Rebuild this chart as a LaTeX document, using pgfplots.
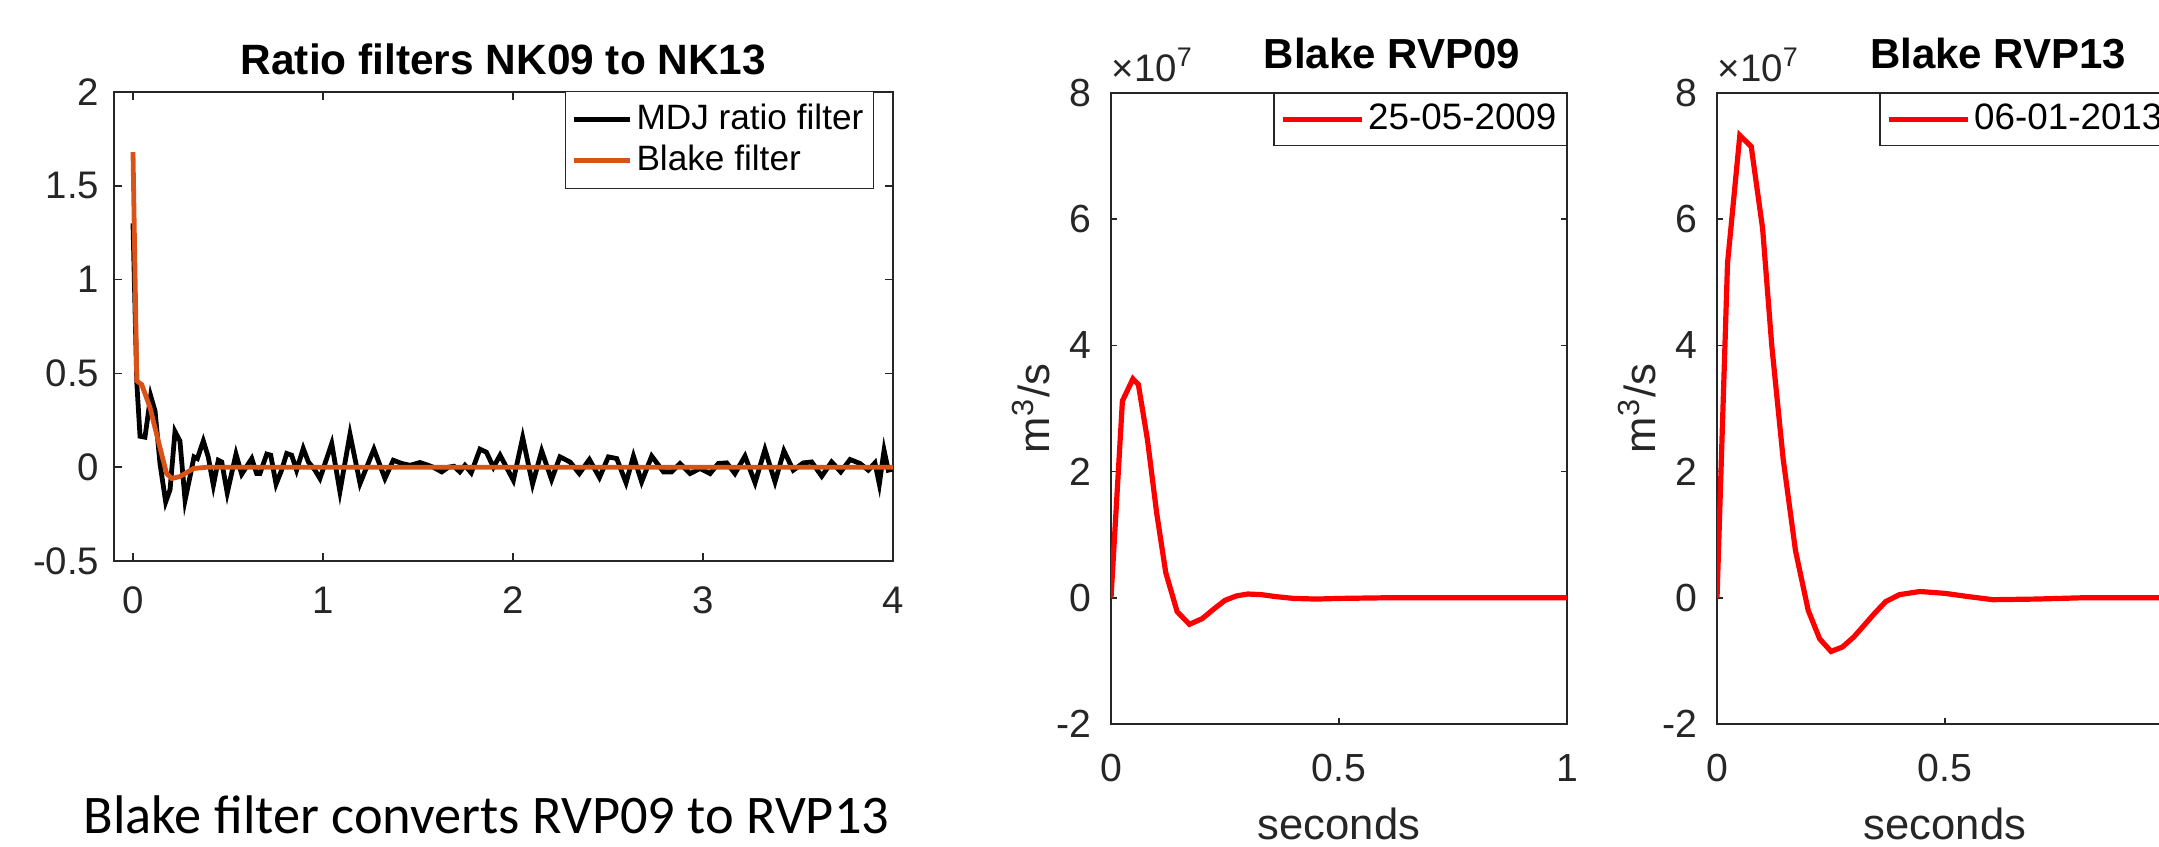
\documentclass[border=0pt]{standalone}
\usepackage{pgfplots}
\pgfplotsset{compat=1.18}
\usepackage{fontspec}
\setmainfont{Liberation Sans}
\newfontfamily\calibri{Carlito}
\definecolor{mgray}{gray}{0.15}
\definecolor{morange}{HTML}{D95319}
\definecolor{mred}{HTML}{FF0000}

\pgfplotsset{
  mstyle/.style={
    scale only axis,
    clip mode=individual,
    axis line style={mgray, line width=0.4pt},
    every tick/.style={mgray, line width=0.4pt},
    tick pos=both,
    tick align=inside,
    /pgf/number format/assume math mode=true,
    tick label style={text=mgray, inner sep=0pt},
    every axis title shift=0pt,
    legend cell align=left,
    legend image code/.code={\draw[#1] (0pt,0pt) -- (\pgfkeysvalueof{/pgfplots/leglen},0pt);},
  },
  /pgfplots/leglen/.initial=14pt,
}

\begin{document}
\begin{tikzpicture}
\path[use as bounding box] (0pt,0pt) rectangle (539.75pt,-211.5pt);
\clip (0pt,0pt) rectangle (539.75pt,-211.5pt);

% ---------------- Left panel ----------------
\begin{axis}[mstyle,
  at={(28.5pt,-23pt)}, anchor=north west,
  width=194.75pt, height=117.25pt,
  xmin=-0.1, xmax=4, ymin=-0.5, ymax=2,
  xtick={0,1,2,3,4}, xticklabels={0,1,2,3,4},
  ytick={-0.5,0,0.5,1,1.5,2}, yticklabels={-0.5,0,0.5,1,1.5,2},
  major tick length=1.95pt,
  tick label style={font=\fontsize{9.6pt}{11pt}\selectfont},
  xticklabel style={anchor=base, yshift=-13pt},
  yticklabel style={anchor=east, xshift=-3.5pt},
  title={Ratio filters NK09 to NK13},
  title style={at={(0.5,1)}, anchor=base, yshift=4.5pt, font=\bfseries\fontsize{10.6pt}{12pt}\selectfont},
  leglen=14pt,
  legend style={at={(1,1)}, anchor=north east, xshift=-4.75pt, yshift=0.25pt,
    draw=mgray, line width=0.3pt, fill=white,
    font=\fontsize{8.8pt}{10pt}\selectfont,
    inner xsep=1.5pt, inner ysep=2pt, row sep=0.5pt,
    nodes={inner xsep=1pt, inner ysep=1pt}},
]
\addplot[black, line width=1.2pt] coordinates {
(0,1.30) (0.02,0.45) (0.037,0.165) (0.063,0.16) (0.093,0.38) (0.116,0.30)
(0.142,0.02) (0.172,-0.185) (0.195,-0.12) (0.221,0.19) (0.247,0.14) (0.274,-0.176)
(0.3,-0.05) (0.321,0.055) (0.339,0.046) (0.37,0.14) (0.396,0.055) (0.423,-0.096)
(0.449,0.037) (0.467,0.028) (0.496,-0.137) (0.542,0.07) (0.572,-0.037) (0.625,0.046)
(0.651,-0.034) (0.668,-0.034) (0.704,0.07) (0.725,0.064) (0.753,-0.09) (0.782,-0.016)
(0.809,0.073) (0.835,0.064) (0.861,-0.016) (0.896,0.1) (0.923,0.028) (0.958,-0.016)
(0.984,-0.06) (1.046,0.126) (1.089,-0.13) (1.142,0.176) (1.195,-0.087) (1.268,0.096)
(1.326,-0.06) (1.37,0.037) (1.414,0.02) (1.458,0.01) (1.51,0.025) (1.554,0.01)
(1.58,0) (1.625,-0.025) (1.66,0) (1.69,0.005) (1.72,-0.025) (1.747,0.01)
(1.78,-0.03) (1.826,0.096) (1.86,0.08) (1.897,0) (1.932,0.064) (2.002,-0.07)
(2.051,0.158) (2.103,-0.09) (2.151,0.087) (2.203,-0.066) (2.247,0.055) (2.3,0.028)
(2.349,-0.034) (2.402,0.041) (2.455,-0.055) (2.502,0.055) (2.546,0.046) (2.595,-0.083)
(2.634,0.059) (2.677,-0.078) (2.73,0.059) (2.792,-0.025) (2.835,-0.025) (2.879,0.02)
(2.932,-0.034) (2.984,-0.007) (3.037,-0.034) (3.081,0.02) (3.125,0.023) (3.168,-0.034)
(3.221,0.059) (3.274,-0.083) (3.326,0.094) (3.379,-0.078) (3.426,0.087) (3.475,-0.016)
(3.528,0.023) (3.572,0.028) (3.625,-0.048) (3.677,0.028) (3.725,-0.025) (3.774,0.041)
(3.826,0.02) (3.87,-0.016) (3.905,0.023) (3.928,-0.09) (3.953,0.09) (3.975,-0.016)
(4.0,-0.01)
};
\addlegendentry{MDJ ratio filter}
\addplot[morange, line width=1.2pt] coordinates {
(0,1.68) (0.02,0.46) (0.046,0.44) (0.089,0.32) (0.133,0.14) (0.177,-0.034)
(0.204,-0.06) (0.247,-0.05) (0.318,-0.007) (0.39,0) (1,0) (2,0) (3,0) (4,0)
};
\addlegendentry{Blake filter}
\end{axis}

% ---------------- Middle panel ----------------
\begin{axis}[mstyle,
  at={(277.75pt,-23.25pt)}, anchor=north west,
  width=114pt, height=157.75pt,
  xmin=0, xmax=1, ymin=-2, ymax=8,
  xtick={0,0.5,1}, xticklabels={0,0.5,1},
  ytick={-2,0,2,4,6,8}, yticklabels={-2,0,2,4,6,8},
  major tick length=1.6pt,
  tick label style={font=\fontsize{9.8pt}{11pt}\selectfont},
  xticklabel style={anchor=base, yshift=-14.5pt},
  yticklabel style={anchor=east, xshift=-4.75pt},
  xlabel={seconds},
  xlabel style={at={(axis description cs:0.5,0)}, anchor=base, yshift=-29pt, text=mgray, font=\fontsize{10.9pt}{12pt}\selectfont},
  ylabel={m\textsuperscript{3}/s},
  ylabel style={at={(axis description cs:-0.1754,0.5)}, anchor=center, text=mgray, font=\fontsize{10.9pt}{12pt}\selectfont},
  title={Blake RVP09},
  title style={at={(0.5,1)}, anchor=base, yshift=6.25pt, xshift=13.25pt, font=\bfseries\fontsize{10.5pt}{12pt}\selectfont},
  leglen=19.75pt,
  legend style={at={(1,1)}, anchor=north east,
    draw=mgray, line width=0.3pt, fill=white,
    font=\fontsize{9.2pt}{10pt}\selectfont,
    inner xsep=1.5pt, inner ysep=1.5pt,
    nodes={inner xsep=1pt, inner ysep=1pt}},
]
\addplot[mred, line width=1.3pt] coordinates {
(0,0) (0.025,3.12) (0.048,3.47) (0.06,3.38) (0.08,2.5) (0.1,1.35) (0.12,0.4)
(0.145,-0.22) (0.172,-0.42) (0.2,-0.33) (0.225,-0.18) (0.25,-0.04) (0.275,0.03)
(0.3,0.06) (0.33,0.05) (0.36,0.02) (0.4,-0.01) (0.45,-0.02) (0.5,-0.01) (0.6,0) (1,0)
};
\addlegendentry{25-05-2009}
\node[anchor=base west, inner sep=0pt, text=mgray, font=\fontsize{9.6pt}{10pt}\selectfont]
  at (rel axis cs:0,1) [yshift=3pt] {×10\textsuperscript{7}};
\end{axis}

% ---------------- Right panel ----------------
\begin{axis}[mstyle,
  at={(429.25pt,-23.25pt)}, anchor=north west,
  width=114pt, height=157.75pt,
  xmin=0, xmax=1, ymin=-2, ymax=8,
  xtick={0,0.5,1}, xticklabels={0,0.5,{}},
  ytick={-2,0,2,4,6,8}, yticklabels={-2,0,2,4,6,8},
  major tick length=1.6pt,
  tick label style={font=\fontsize{9.8pt}{11pt}\selectfont},
  xticklabel style={anchor=base, yshift=-14.5pt},
  yticklabel style={anchor=east, xshift=-4.75pt},
  xlabel={seconds},
  xlabel style={at={(axis description cs:0.5,0)}, anchor=base, yshift=-29pt, text=mgray, font=\fontsize{10.9pt}{12pt}\selectfont},
  ylabel={m\textsuperscript{3}/s},
  ylabel style={at={(axis description cs:-0.1754,0.5)}, anchor=center, text=mgray, font=\fontsize{10.9pt}{12pt}\selectfont},
  title={Blake RVP13},
  title style={at={(0.5,1)}, anchor=base, yshift=6.25pt, xshift=13.25pt, font=\bfseries\fontsize{10.5pt}{12pt}\selectfont},
  leglen=19.75pt,
  legend style={at={(1,1)}, anchor=north east,
    draw=mgray, line width=0.3pt, fill=white,
    font=\fontsize{9.2pt}{10pt}\selectfont,
    inner xsep=1.5pt, inner ysep=1.5pt,
    nodes={inner xsep=1pt, inner ysep=1pt}},
]
\addplot[mred, line width=1.3pt] coordinates {
(0,0) (0.023,5.3) (0.05,7.33) (0.075,7.15) (0.1,5.85) (0.12,4.0) (0.145,2.2)
(0.172,0.75) (0.2,-0.2) (0.225,-0.65) (0.25,-0.85) (0.275,-0.78) (0.3,-0.62)
(0.322,-0.44) (0.345,-0.25) (0.37,-0.06) (0.4,0.05) (0.445,0.1) (0.5,0.07)
(0.55,0.02) (0.605,-0.03) (0.7,-0.02) (0.8,0) (1,0)
};
\addlegendentry{06-01-2013}
\node[anchor=base west, inner sep=0pt, text=mgray, font=\fontsize{9.6pt}{10pt}\selectfont]
  at (rel axis cs:0,1) [yshift=3pt] {×10\textsuperscript{7}};
\end{axis}

% caption
\node[anchor=base west, inner sep=0pt, font=\calibri\fontsize{13.6pt}{15pt}\selectfont]
  at (20.75pt,-208.3pt) {Blake filter converts RVP09 to RVP13};
\end{tikzpicture}
\end{document}
